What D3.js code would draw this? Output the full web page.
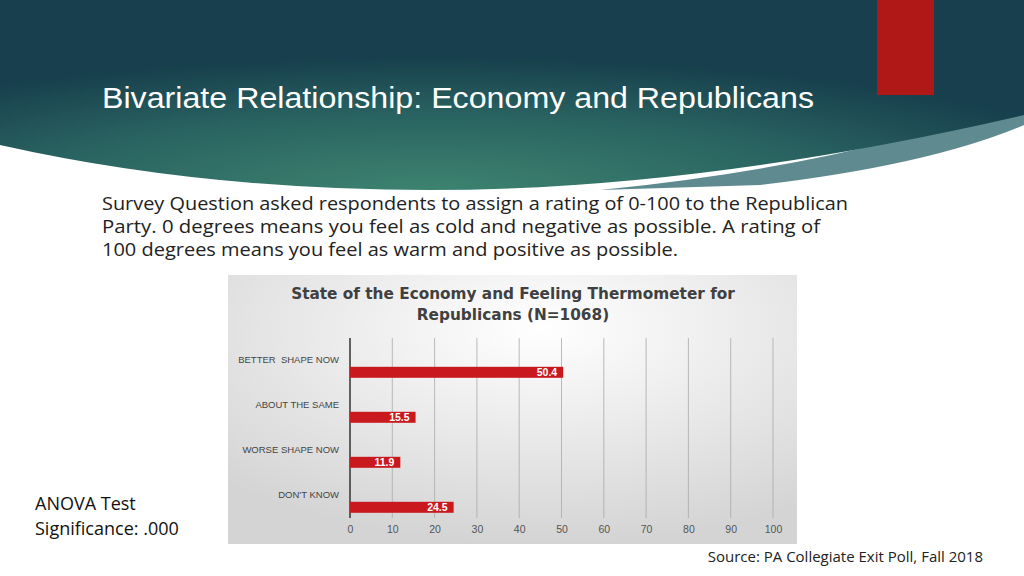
<!DOCTYPE html>
<html><head><meta charset="utf-8">
<script src="https://cdn.jsdelivr.net/npm/d3@7"></script>
<style>body{margin:0;background:#fff;overflow:hidden}</style>
</head><body>
<svg id="slide" width="1024" height="576"></svg>
<script>
var categories = ["BETTER  SHAPE NOW", "ABOUT THE SAME", "WORSE SHAPE NOW", "DON'T KNOW"];
var values = [50.4, 15.5, 11.9, 24.5];
var xTicks = [0,10,20,30,40,50,60,70,80,90,100];
var bodyLines = [
  "Survey Question asked respondents to assign a rating of 0-100 to the Republican",
  "Party. 0 degrees means you feel as cold and negative as possible. A rating of",
  "100 degrees means you feel as warm and positive as possible."
];
var bodyWidths = [746, 718, 576];

var svg = d3.select("#slide");
var defs = svg.append("defs");

var hg = defs.append("radialGradient").attr("id","hdr").attr("cx","0.42").attr("cy","1").attr("r","0.7");
hg.append("stop").attr("offset","0%").attr("stop-color","#3d8370");
hg.append("stop").attr("offset","55%").attr("stop-color","#2a6461");
hg.append("stop").attr("offset","100%").attr("stop-color","#173f4d");

var cg = defs.append("radialGradient").attr("id","chartbg").attr("cx","0.55").attr("cy","0.2").attr("r","0.8");
cg.append("stop").attr("offset","0%").attr("stop-color","#ffffff");
cg.append("stop").attr("offset","100%").attr("stop-color","#d4d4d4");

// header band with curved bottom
svg.append("path")
  .attr("d","M1024,125 Q930,165 760,185 L600,190 Q850,165 1024,100 Z")
  .attr("fill","#5e8a90");
svg.append("path")
  .attr("d","M0,145 Q200,190 430,190 Q700,190 1024,115 L1024,0 L0,0 Z")
  .attr("fill","url(#hdr)");
svg.append("rect").attr("x",877).attr("y",0).attr("width",57).attr("height",95).attr("fill","#b01717");

svg.append("text").attr("x",102).attr("y",108).attr("fill","#fff")
  .style("font-family","'Liberation Sans', sans-serif").style("font-size","30px")
  .attr("textLength",712).attr("lengthAdjust","spacingAndGlyphs")
  .text("Bivariate Relationship: Economy and Republicans");

svg.selectAll("text.body").data(bodyLines).join("text").attr("class","body")
  .attr("x",102).attr("y",function(d,i){return 210+i*23;})
  .attr("textLength",function(d,i){return bodyWidths[i];}).attr("lengthAdjust","spacingAndGlyphs")
  .attr("fill","#222").style("font-family","'Open Sans', sans-serif").style("font-size","17.5px")
  .text(function(d){return d;});

// chart image
var cx0 = 228, cy0 = 275, cw = 569, ch = 269;
svg.append("rect").attr("x",cx0).attr("y",cy0).attr("width",cw).attr("height",ch).attr("fill","url(#chartbg)");

svg.append("text").attr("x",513).attr("y",299).attr("text-anchor","middle").attr("fill","#404040")
  .style("font-family","'DejaVu Sans', sans-serif").style("font-weight","bold").style("font-size","15.3px")
  .text("State of the Economy and Feeling Thermometer for");
svg.append("text").attr("x",513).attr("y",320).attr("text-anchor","middle").attr("fill","#404040")
  .style("font-family","'DejaVu Sans', sans-serif").style("font-weight","bold").style("font-size","15.3px")
  .text("Republicans (N=1068)");

var x = d3.scaleLinear().domain([0,100]).range([350,773]);
var y = d3.scaleBand().domain(categories).range([338,518]);

var g = svg.append("g");
g.selectAll("line.grid").data(xTicks.slice(1)).join("line").attr("class","grid")
  .attr("x1",function(d){return x(d);}).attr("x2",function(d){return x(d);})
  .attr("y1",338).attr("y2",518).attr("stroke","#aaa").attr("stroke-width",0.8);

var ax = g.append("g").attr("transform","translate(0,518)")
  .call(d3.axisBottom(x).tickValues(xTicks).tickSize(0).tickPadding(8));
ax.select(".domain").remove();
ax.selectAll("text").attr("fill","#555").style("font-family","'Liberation Sans', sans-serif").style("font-size","10.5px");

g.append("line").attr("x1",x(0)).attr("x2",x(0)).attr("y1",338).attr("y2",518).attr("stroke","#333").attr("stroke-width",1.5);

g.selectAll("rect.bar").data(values).join("rect").attr("class","bar")
  .attr("x",x(0)).attr("y",function(d,i){return y(categories[i])+y.bandwidth()*0.64;})
  .attr("width",function(d){return x(d)-x(0);}).attr("height",11).attr("fill","#c9191e");

g.selectAll("text.val").data(values).join("text").attr("class","val")
  .attr("x",function(d){return x(d)-6;}).attr("y",function(d,i){return y(categories[i])+y.bandwidth()*0.64+9.5;})
  .attr("text-anchor","end").attr("fill","#fff")
  .style("font-family","'Liberation Sans', sans-serif").style("font-weight","bold").style("font-size","10.5px")
  .text(function(d){return d;});

g.selectAll("text.cat").data(categories).join("text").attr("class","cat")
  .attr("x",339).attr("y",function(d){return y(d)+y.bandwidth()*0.5+2;})
  .attr("text-anchor","end").attr("fill","#444")
  .style("font-family","'Liberation Sans', sans-serif").style("font-size","9.5px")
  .style("white-space","pre").text(function(d){return d;});

svg.append("text").attr("x",35).attr("y",510).attr("fill","#111")
  .style("font-family","'Open Sans', sans-serif").style("font-size","18px").text("ANOVA Test");
svg.append("text").attr("x",35).attr("y",535).attr("fill","#111")
  .style("font-family","'Open Sans', sans-serif").style("font-size","18px").text("Significance: .000");
svg.append("text").attr("x",983).attr("y",562).attr("text-anchor","end").attr("fill","#222")
  .style("font-family","'Open Sans', sans-serif").style("font-size","15px").text("Source: PA Collegiate Exit Poll, Fall 2018");
</script>
</body></html>
